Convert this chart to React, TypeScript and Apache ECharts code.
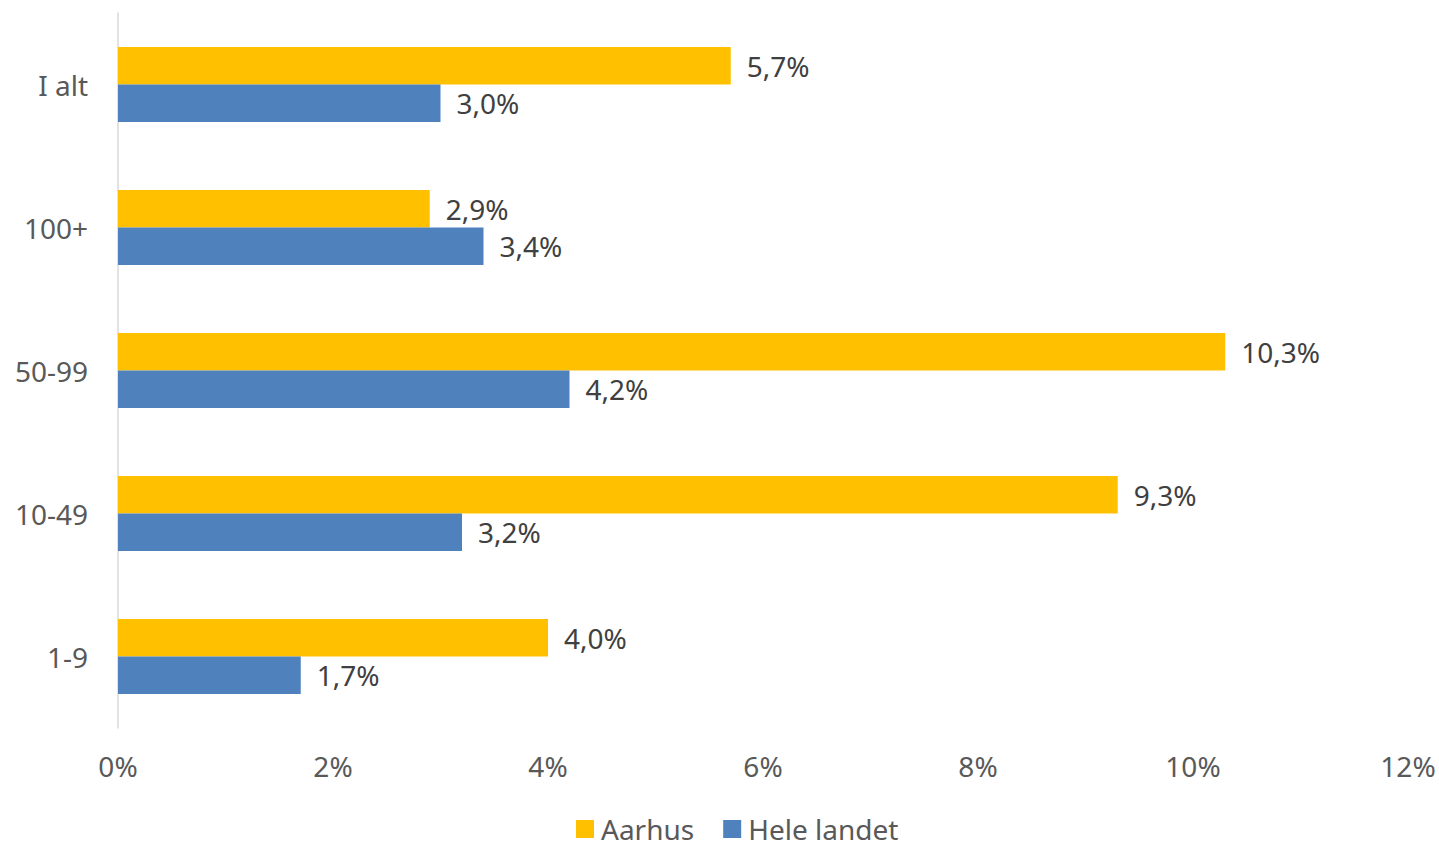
import React, { useEffect, useRef } from "react";
import * as echarts from "echarts";

const categories = ["1-9", "10-49", "50-99", "100+", "I alt"];
const aarhus = [4.0, 9.3, 10.3, 2.9, 5.7];
const heleLandet = [1.7, 3.2, 4.2, 3.4, 3.0];
const seriesNames = ["Aarhus", "Hele landet"];

const FONT = "Noto Sans";

export default function App() {
  const ref = useRef<HTMLDivElement>(null);
  useEffect(() => {
    if (!ref.current) return;
    const chart = echarts.init(ref.current, null, { renderer: "svg" });
    const fmt = (p: any) => p.value.toFixed(1).replace(".", ",") + "%";
    const label = {
      show: true,
      position: "right",
      distance: 16,
      formatter: fmt,
      color: "#404040",
      fontSize: 28,
      fontFamily: FONT,
    };
    chart.setOption({
      animation: false,
      backgroundColor: "#ffffff",
      grid: { left: 118, right: 31, top: 13, bottom: 117, containLabel: false },
      legend: {
        data: seriesNames,
        left: 576,
        top: 814,
        padding: 0,
        itemWidth: 18,
        itemHeight: 18,
        itemGap: 29,
        icon: "rect",
        textStyle: {
          color: "#595959",
          fontSize: 28,
          fontFamily: FONT,
          lineHeight: 30,
          padding: [0, 0, 0, 2],
        },
      },
      xAxis: {
        type: "value",
        min: 0,
        max: 12,
        interval: 2,
        axisLine: { show: false },
        axisTick: { show: false },
        splitLine: { show: false },
        axisLabel: {
          formatter: (v: number) => v + "%",
          color: "#595959",
          fontSize: 28,
          fontFamily: FONT,
          margin: 24,
        },
      },
      yAxis: {
        type: "category",
        data: categories,
        axisLine: { show: true, lineStyle: { color: "#D9D9D9", width: 1.5 } },
        axisTick: { show: false },
        axisLabel: {
          color: "#595959",
          fontSize: 28,
          fontFamily: FONT,
          margin: 30,
        },
      },
      series: [
        {
          name: "Aarhus",
          type: "bar",
          data: aarhus,
          barWidth: 37.5,
          barGap: "0%",
          itemStyle: { color: "#FFC000" },
          label,
        },
        {
          name: "Hele landet",
          type: "bar",
          data: heleLandet,
          barWidth: 37.5,
          barGap: "0%",
          itemStyle: { color: "#4F81BD" },
          label,
        },
      ],
    });
    return () => chart.dispose();
  }, []);
  return (
    <div
      ref={ref}
      style={{ position: "fixed", left: 0, top: 0, width: 1439, height: 845 }}
    />
  );
}
